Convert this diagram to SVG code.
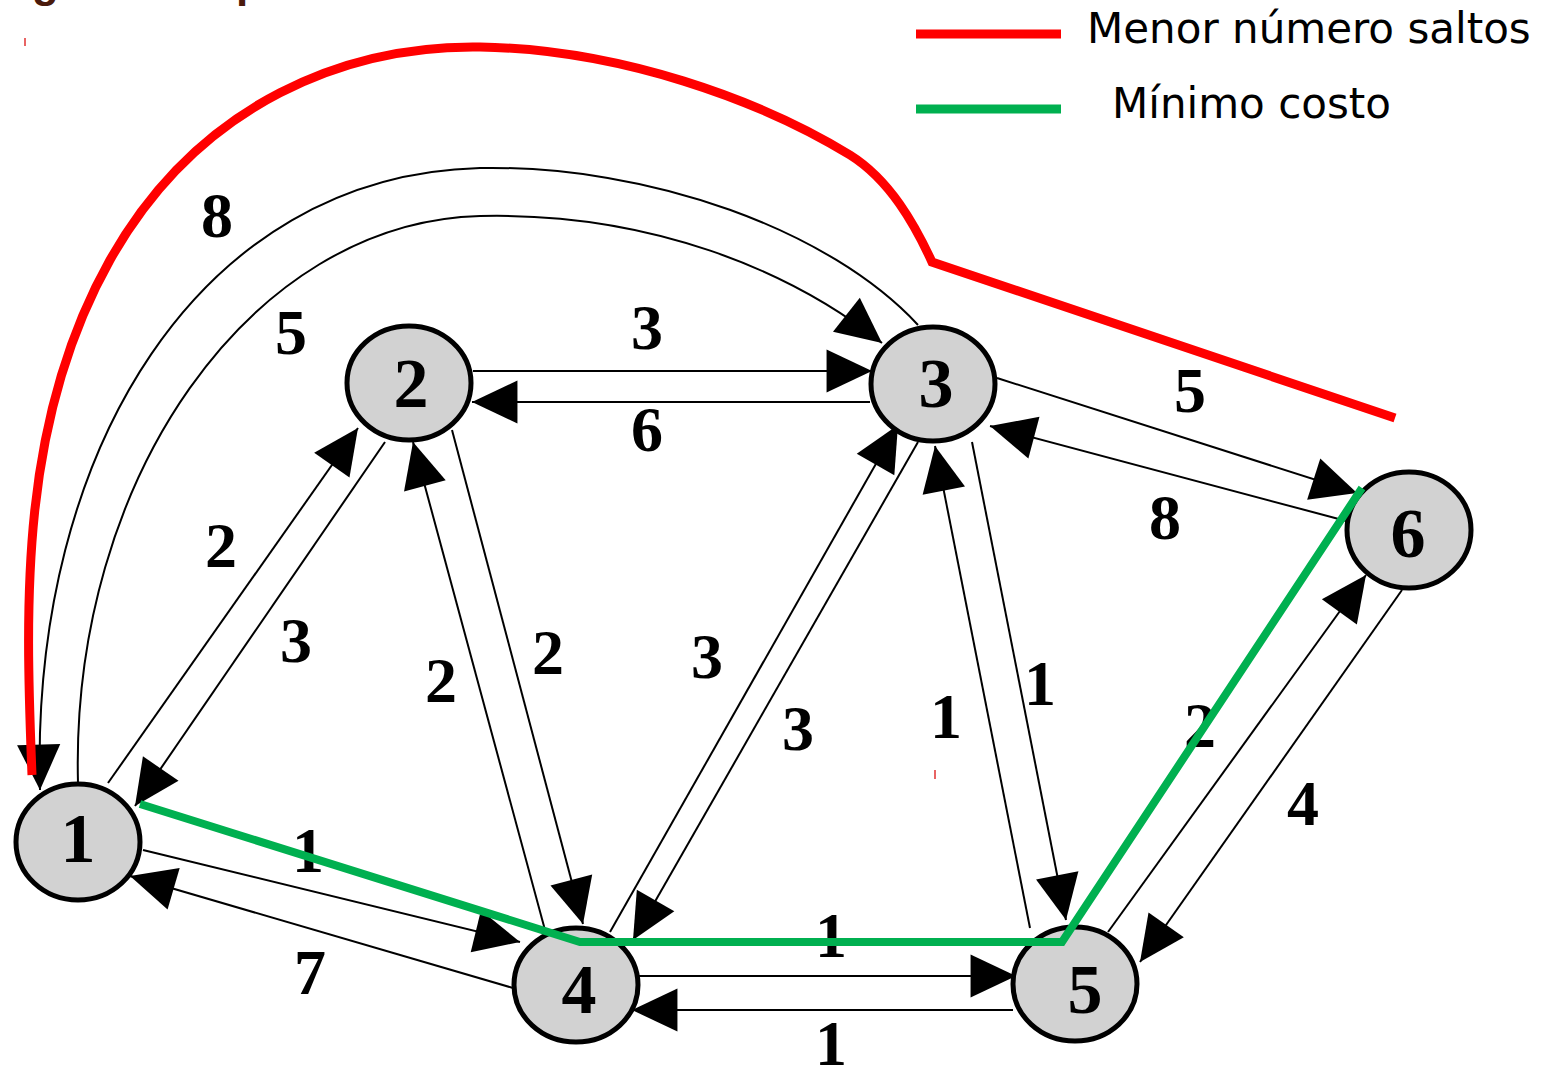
<svg xmlns="http://www.w3.org/2000/svg" width="1543" height="1068" viewBox="0 0 1543 1068">
<style>
.edge{fill:none;stroke:#000;stroke-width:2;marker-end:url(#ah)}
.node ellipse{fill:#d2d2d2;stroke:#000;stroke-width:5}
.nl{font-family:"Liberation Serif",serif;font-weight:bold;font-size:70px;text-anchor:middle;fill:#000}
.el{font-family:"Liberation Serif",serif;font-weight:bold;font-size:64px;text-anchor:middle;fill:#000}
.leg{font-family:"DejaVu Sans",sans-serif;font-size:42px;fill:#000}
.frag{font-family:"Liberation Sans",sans-serif;font-weight:bold;font-size:44px;fill:#4a1a0c}
</style>
<defs>
<marker id="ah" markerUnits="userSpaceOnUse" markerWidth="50" markerHeight="50" viewBox="-42 -21 44 42" refX="0" refY="0" orient="auto">
<path d="M0,0 L-40,-19 L-40,19 Z" fill="#000"/>
</marker>
</defs>
<rect width="1543" height="1068" fill="#fff"/>
<text class="frag" x="32" y="-3">g</text>
<text class="frag" x="236" y="-3">p</text>
<line x1="25" y1="38" x2="25" y2="46" stroke="#e03030" stroke-width="1.5"/>
<line x1="935" y1="770" x2="935" y2="779" stroke="#e03030" stroke-width="1.5"/>
<g id="connectors">
<path class="edge" d="M918 325 C830 230 650 165 480 168 C200 175 30 450 40 790"/>
<path class="edge" d="M78 783 C70 480 250 222 480 216 C650 212 790 270 882 343"/>
<line class="edge" x1="473" y1="371" x2="872" y2="371"/>
<line class="edge" x1="870" y1="402" x2="472" y2="402"/>
<line class="edge" x1="997" y1="378" x2="1357" y2="493"/>
<line class="edge" x1="1350" y1="522" x2="990" y2="426"/>
<line class="edge" x1="143" y1="850" x2="520" y2="942"/>
<line class="edge" x1="513" y1="988" x2="130" y2="876"/>
<line class="edge" x1="639" y1="976" x2="1016" y2="976"/>
<line class="edge" x1="1013" y1="1010" x2="632" y2="1010"/>
<line class="edge" x1="452" y1="430" x2="583" y2="924"/>
<line class="edge" x1="545" y1="930" x2="413" y2="442"/>
<line class="edge" x1="610" y1="932" x2="898" y2="425"/>
<line class="edge" x1="918" y1="442" x2="633" y2="940"/>
<line class="edge" x1="972" y1="442" x2="1066" y2="920"/>
<line class="edge" x1="1030" y1="928" x2="935" y2="446"/>
<line class="edge" x1="1108" y1="932" x2="1366" y2="575"/>
<line class="edge" x1="1402" y1="590" x2="1140" y2="962"/>
<line class="edge" x1="108" y1="783" x2="358" y2="428"/>
<line class="edge" x1="385" y1="442" x2="135" y2="806"/>
</g>
<g id="edge-labels">
<text class="el" x="217" y="237">8</text>
<text class="el" x="291" y="354">5</text>
<text class="el" x="647" y="349">3</text>
<text class="el" x="647" y="451">6</text>
<text class="el" x="1190" y="412">5</text>
<text class="el" x="1165" y="539">8</text>
<text class="el" x="221" y="567">2</text>
<text class="el" x="296" y="662">3</text>
<text class="el" x="441" y="702">2</text>
<text class="el" x="548" y="674">2</text>
<text class="el" x="707" y="678">3</text>
<text class="el" x="798" y="750">3</text>
<text class="el" x="946" y="738">1</text>
<text class="el" x="1040" y="705">1</text>
<text class="el" x="1200" y="747">2</text>
<text class="el" x="1303" y="825">4</text>
<text class="el" x="308" y="872">1</text>
<text class="el" x="310" y="994">7</text>
<text class="el" x="831" y="957">1</text>
<text class="el" x="831" y="1065">1</text>
</g>
<g id="node1" class="node"><ellipse cx="78" cy="842" rx="62" ry="58"/><text class="nl" x="78" y="862">1</text></g>
<g id="node2" class="node"><ellipse cx="409" cy="383" rx="62" ry="57"/><text class="nl" x="411" y="407">2</text></g>
<g id="node3" class="node"><ellipse cx="933" cy="384" rx="62" ry="57"/><text class="nl" x="936" y="407">3</text></g>
<g id="node4" class="node"><ellipse cx="576" cy="985" rx="62" ry="57"/><text class="nl" x="579" y="1013">4</text></g>
<g id="node5" class="node"><ellipse cx="1075" cy="984" rx="62" ry="57"/><text class="nl" x="1085" y="1013">5</text></g>
<g id="node6" class="node"><ellipse cx="1409" cy="530" rx="62" ry="58"/><text class="nl" x="1408" y="557">6</text></g>
<g id="paths">
<path d="M32 775 C25 600 20 420 110 260 C200 100 350 45 480 47 C620 49 760 100 850 155 C890 180 915 225 932 262 L1395 418" fill="none" stroke="#ff0000" stroke-width="9"/>
<polyline points="140,804 580,942 1062,942 1362,488" fill="none" stroke="#00b050" stroke-width="8"/>
</g>
<g id="legend">
<line x1="916" y1="34" x2="1061" y2="34" stroke="#ff0000" stroke-width="9"/>
<text class="leg" x="1087" y="43">Menor número saltos</text>
<line x1="916" y1="109" x2="1061" y2="109" stroke="#00b050" stroke-width="9"/>
<text class="leg" x="1112" y="118">Mínimo costo</text>
</g>
</svg>
